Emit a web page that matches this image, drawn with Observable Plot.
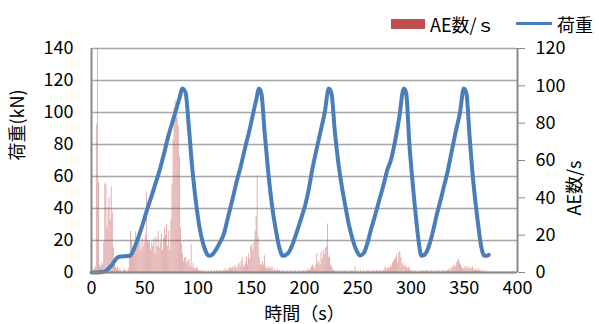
<!DOCTYPE html>
<html><head><meta charset="utf-8">
<script src="https://cdn.jsdelivr.net/npm/d3@7"></script>
<script src="https://cdn.jsdelivr.net/npm/@observablehq/plot@0.6"></script>
<style>
body{margin:0;background:#fff;font-family:"Noto Sans CJK JP",sans-serif;}
#wrap{position:relative;width:599px;height:324px;overflow:hidden;}
#legend{position:absolute;left:0;top:0;width:599px;height:34px;font-size:18px;color:#000;z-index:2;}
#legend span{position:absolute;white-space:nowrap;}
#chart{position:absolute;left:0;top:0;}
</style></head>
<body>
<div id="wrap">
  <div id="chart"></div>
  <div id="legend">
    <span style="left:391px;top:19px;width:34px;height:10px;background:#C0504D"></span>
    <span style="left:430px;top:12px;line-height:24px">AE数/ｓ</span>
    <span style="left:516px;top:22px;width:36px;height:3px;background:#4A7EBB"></span>
    <span style="left:557px;top:12px;line-height:24px">荷重</span>
  </div>
</div>
<script>
// AE counts per second, t = 0,1,2,... s
const aePerSecond = [
  0, 0, 1, 2, 3, 79, 120, 48, 4, 3,
  5, 4, 16, 48, 47, 24, 35, 40, 28, 46,
  32, 13, 4, 3, 2, 3, 1, 2, 1, 0,
  1, 2, 1, 1, 0, 2, 8, 22, 17, 13,
  10, 15, 22, 14, 18, 20, 16, 12, 18, 14,
  16, 20, 43, 17, 16, 17, 12, 16, 14, 18,
  10, 19, 14, 22, 13, 16, 21, 12, 18, 24,
  20, 26, 14, 22, 12, 28, 47, 71, 88, 92,
  86, 83, 78, 62, 24, 15, 10, 6, 8, 8,
  5, 6, 7, 3, 15, 3, 5, 2, 2, 3,
  2, 1, 1, 1, 0, 1, 0, 1, 0, 0,
  1, 0, 0, 1, 0, 0, 1, 0, 1, 1,
  0, 1, 1, 0, 1, 1, 2, 1, 1, 2,
  2, 3, 2, 3, 2, 4, 3, 2, 4, 5,
  3, 6, 8, 3, 4, 5, 8, 4, 10, 7,
  14, 15, 12, 16, 22, 30, 52, 19, 8, 4,
  4, 6, 4, 9, 3, 2, 3, 2, 3, 2,
  3, 1, 2, 1, 1, 2, 1, 1, 0, 1,
  0, 1, 0, 0, 1, 0, 0, 1, 0, 1,
  0, 0, 1, 0, 0, 1, 0, 1, 0, 1,
  1, 0, 1, 1, 2, 1, 2, 3, 4, 3,
  2, 4, 10, 5, 6, 4, 11, 7, 12, 10,
  13, 14, 26, 8, 9, 4, 3, 2, 1, 1,
  0, 1, 0, 1, 0, 0, 1, 0, 1, 0,
  1, 0, 0, 1, 0, 1, 0, 1, 3, 0,
  1, 0, 0, 1, 0, 0, 1, 0, 0, 1,
  0, 1, 0, 0, 1, 0, 1, 0, 1, 1,
  0, 1, 1, 0, 1, 1, 3, 2, 2, 3,
  2, 4, 3, 5, 6, 7, 8, 10, 5, 11,
  11, 8, 4, 5, 3, 4, 3, 2, 3, 2,
  1, 1, 0, 1, 0, 1, 0, 0, 1, 0,
  1, 0, 1, 0, 1, 1, 0, 1, 0, 1,
  1, 0, 1, 0, 1, 0, 1, 1, 0, 1,
  0, 1, 1, 0, 1, 1, 2, 1, 2, 3,
  3, 4, 3, 5, 6, 7, 5, 4, 3, 2,
  2, 3, 2, 3, 2, 3, 2, 2, 3, 2,
  1, 2, 1, 1, 2, 1, 1, 0, 1, 0,
  1, 0, 0
];

// Load curve (time in s, load in kN)
const loadTime = [
  0, 5, 10, 13, 16, 19, 22, 25, 28, 32, 36, 38, 40, 44, 48, 52, 56, 60, 64, 68, 72, 76, 80, 83, 85.2,
  88.3, 91.4, 94.5, 97, 99.2, 101.5, 104, 106.5, 108.5, 110.2,
  113, 116.4, 120, 124.2, 128, 132.1, 136, 140, 144.6, 148, 152, 155, 157.1,
  159.5, 162.5, 165.5, 168, 170.5, 173, 175.5, 177.5, 179,
  182, 185.3, 189, 193.1, 197, 201, 204, 207.2, 211, 215, 219, 222.8,
  225.3, 228.5, 231.5, 235, 238.5, 242, 245.5, 249, 252,
  255.5, 258.9, 262.5, 266.7, 270.5, 274.5, 277.6, 281, 285, 289, 293.2,
  295.5, 298.5, 301, 303.5, 305.5, 307.5, 309.6,
  312.5, 315.2, 318, 321.4, 324.5, 327.7, 331, 334, 338, 342, 346, 349.6,
  352, 355, 357.5, 360, 362.5, 365, 367, 368.8, 371, 373
];
const loadKN = [
  0, 0, 0.3, 0.8, 2.5, 4.5, 7.5, 9.6, 10, 10.2, 10.5, 12, 15, 22, 30, 38.8, 47, 55.4, 64, 74, 85, 94, 103, 110, 115,
  112.5, 91, 66, 50, 38, 28, 20, 14.5, 11.5, 10.5,
  11, 13.7, 18, 24, 34, 45, 56, 66, 79, 88, 100, 109, 115,
  112, 88, 66, 50, 37, 27, 18, 13, 10.5,
  10.8, 12.7, 18, 26, 34, 43, 52, 64, 76, 88, 100, 115,
  112, 88, 70, 54, 41, 29, 20, 13.5, 10.6,
  12, 18, 27, 36.7, 46, 55.4, 63.8, 70, 82, 97, 115,
  112, 80, 60, 42, 29, 18, 10.5,
  11, 13.7, 19, 28, 37, 45, 54, 62, 75, 88, 100, 115,
  112, 85, 64, 47, 33, 20, 13, 10.5, 10.5, 11
];

const loadTicks = [0, 20, 40, 60, 80, 100, 120, 140];
const aeTicks = [0, 20, 40, 60, 80, 100, 120];
const timeTicks = [0, 50, 100, 150, 200, 250, 300, 350, 400];

const RATIO = 140 / 120;
const aeData = aePerSecond.map((v, i) => ({t: i, ae: v}));
const loadData = loadTime.map((t, i) => ({t, kN: loadKN[i]}));

const chart = Plot.plot({
  width: 599,
  height: 324,
  marginTop: 48,
  marginBottom: 52,
  marginLeft: 91,
  marginRight: 82,
  style: {fontFamily: '"Noto Sans CJK JP", sans-serif', fontSize: "18px", color: "#000", background: "white", overflow: "visible"},
  x: {domain: [0, 400]},
  y: {domain: [0, 140]},
  marks: [
    Plot.gridY(loadTicks, {stroke: "#a6a6a6", strokeOpacity: 1, strokeWidth: 1.3}),
    Plot.rect(aeData, {x1: d => d.t - 0.4, x2: d => d.t + 0.4, y1: 0, y2: d => d.ae * RATIO, fill: "#C0504D", fillOpacity: 0.5}),
    Plot.line(loadData, {x: "t", y: "kN", stroke: "#4A7EBB", strokeWidth: 4, curve: "monotone-x", strokeLinejoin: "round"}),
    Plot.ruleX([0, 400], {stroke: "#888", strokeWidth: 2}),
    Plot.ruleY([0], {stroke: "#888", strokeWidth: 2}),
    Plot.axisY(loadTicks, {anchor: "left", tickSize: 0, tickPadding: 18, label: null}),
    Plot.axisY(aeTicks.map(v => v * RATIO), {anchor: "right", tickSize: 7, tickPadding: 11, stroke: "#888", tickFormat: v => String(Math.round(v / RATIO)), label: null}),
    Plot.axisX(timeTicks, {anchor: "bottom", tickSize: 0, tickPadding: 9, label: null}),
    Plot.text(["荷重(kN)"], {frameAnchor: "left", dx: -73, rotate: -90, lineAnchor: "middle", fontSize: 18, fill: "#000"}),
    Plot.text(["AE数/s"], {frameAnchor: "right", dx: 58, rotate: -90, lineAnchor: "middle", fontSize: 18, fill: "#000"}),
    Plot.text(["時間（s）"], {frameAnchor: "bottom", dy: 42, lineAnchor: "middle", fontSize: 18, fill: "#000"})
  ]
});
document.getElementById("chart").appendChild(chart);
</script>
</body></html>
